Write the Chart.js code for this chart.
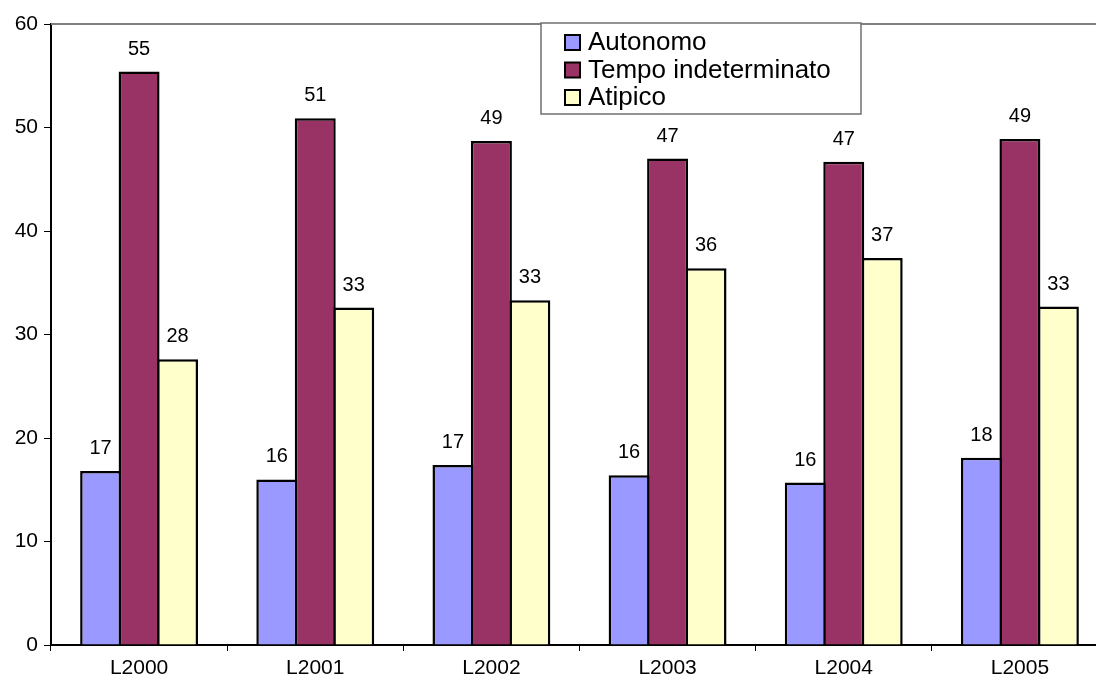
<!DOCTYPE html>
<html>
<head>
<meta charset="utf-8">
<script src="https://cdn.jsdelivr.net/npm/chart.js@4/dist/chart.umd.min.js"></script>
<style>
  html, body { margin: 0; padding: 0; background: #fff; overflow: hidden; }
  #wrap { position: relative; width: 1112px; height: 682px; }
</style>
</head>
<body>
<div id="wrap"><canvas id="c" width="1112" height="682"></canvas></div>
<script>
const categories = ['L2000', 'L2001', 'L2002', 'L2003', 'L2004', 'L2005'];
const autonomo = [16.8, 16.0, 17.4, 16.4, 15.7, 18.1];
const tempoIndeterminato = [55.4, 50.9, 48.7, 47.0, 46.7, 48.9];
const atipico = [27.6, 32.6, 33.3, 36.4, 37.4, 32.7];
const seriesNames = ['Autonomo', 'Tempo indeterminato', 'Atipico'];
const seriesColors = ['#9999FF', '#993366', '#FFFFCC'];

const FONT = "'Liberation Sans', Arial, sans-serif";

// value labels above each bar
const valueLabels = {
  id: 'valueLabels',
  afterDatasetsDraw(chart) {
    const ctx = chart.ctx;
    ctx.save();
    ctx.font = '20px ' + FONT;
    ctx.fillStyle = '#000';
    ctx.textAlign = 'center';
    ctx.textBaseline = 'alphabetic';
    chart.data.datasets.forEach((ds, i) => {
      chart.getDatasetMeta(i).data.forEach((bar, j) => {
        ctx.fillText(Math.round(ds.data[j]).toString(), bar.x, bar.y - 17);
      });
    });
    ctx.restore();
  }
};

// grey frame on the top and right of the plot area
const plotFrame = {
  id: 'plotFrame',
  beforeDatasetsDraw(chart) {
    const { ctx, chartArea: a } = chart;
    ctx.save();
    ctx.strokeStyle = '#808080';
    ctx.lineWidth = 2;
    ctx.beginPath();
    ctx.moveTo(a.left, a.top);
    ctx.lineTo(a.right, a.top);
    ctx.lineTo(a.right, a.bottom);
    ctx.stroke();
    ctx.restore();
  }
};

// boxed legend floating inside the plot area
const boxLegend = {
  id: 'boxLegend',
  afterDraw(chart) {
    const ctx = chart.ctx;
    const x = 541, y = 23, w = 320, h = 91;
    ctx.save();
    ctx.fillStyle = '#fff';
    ctx.fillRect(x, y, w, h);
    ctx.strokeStyle = '#707070';
    ctx.lineWidth = 1.5;
    ctx.strokeRect(x, y, w, h);
    ctx.font = '26px ' + FONT;
    ctx.textBaseline = 'middle';
    ctx.textAlign = 'left';
    chart.data.datasets.forEach((ds, i) => {
      const cy = 42 + i * 27.5;
      ctx.fillStyle = ds.backgroundColor;
      ctx.fillRect(565, cy - 7, 15, 15);
      ctx.strokeStyle = '#000';
      ctx.lineWidth = 2;
      ctx.strokeRect(565, cy - 7, 15, 15);
      ctx.fillStyle = '#000';
      ctx.fillText(ds.label, 588, cy + 1);
    });
    ctx.restore();
  }
};

const seriesData = [autonomo, tempoIndeterminato, atipico];

new Chart(document.getElementById('c'), {
  type: 'bar',
  data: {
    labels: categories,
    datasets: seriesData.map((d, i) => ({
      label: seriesNames[i],
      data: d,
      backgroundColor: seriesColors[i],
      borderColor: '#000',
      borderWidth: 2.5,
      // bars overlap by one border width so neighbours share a single outline
      categoryPercentage: 0.655,
      barPercentage: 1.065
    }))
  },
  options: {
    responsive: false,
    animation: false,
    devicePixelRatio: 1,
    layout: { padding: { left: 0, right: 4, top: 24, bottom: 0 } },
    plugins: { legend: { display: false }, tooltip: { enabled: false } },
    scales: {
      x: {
        offset: true,
        grid: { display: true, offset: true, drawOnChartArea: false, drawTicks: true, tickLength: 6, color: '#000', lineWidth: 1 },
        border: { display: true, color: '#000', width: 2 },
        ticks: { color: '#000', font: { family: FONT, size: 21 }, padding: 5, maxRotation: 0 },
        afterFit(scale) { scale.height = 37; }
      },
      y: {
        min: 0,
        max: 60,
        ticks: { stepSize: 10, color: '#000', font: { family: FONT, size: 21 }, padding: 6 },
        grid: { display: true, drawOnChartArea: false, drawTicks: true, tickLength: 7, color: '#000', lineWidth: 1 },
        border: { display: true, color: '#000', width: 2 },
        afterFit(scale) { scale.width = 51; }
      }
    }
  },
  plugins: [plotFrame, valueLabels, boxLegend]
});
</script>
</body>
</html>
